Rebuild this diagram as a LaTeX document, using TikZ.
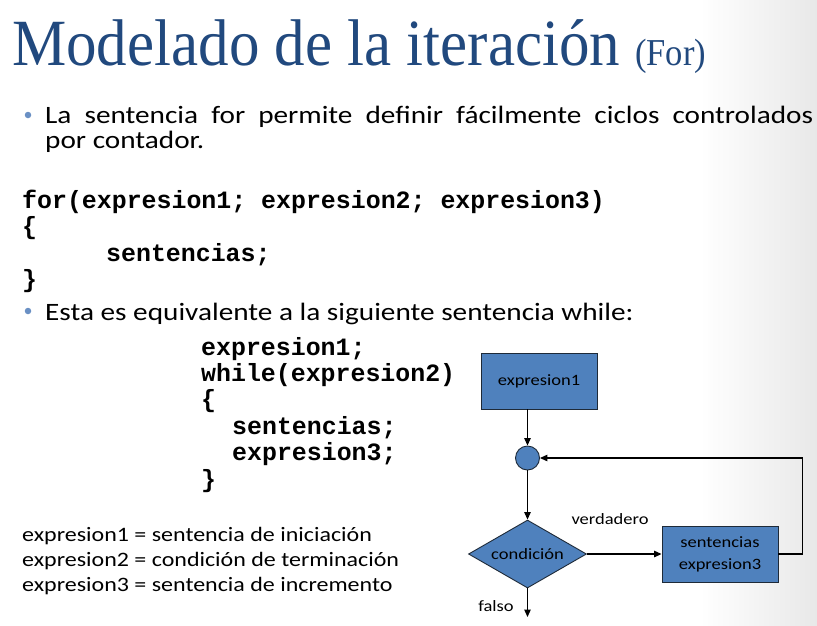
\documentclass[tikz,border=0pt]{standalone}
\usepackage{fontspec}
\setmainfont{Carlito}
\newfontfamily\titlefont{Liberation Serif}
\newfontfamily\codefont{Liberation Mono}
\usetikzlibrary{arrows.meta,shapes.geometric}
\definecolor{titleblue}{HTML}{21497E}
\definecolor{bulletblue}{HTML}{6A90C4}
\definecolor{boxblue}{HTML}{4F81BD}
\definecolor{boxedge}{HTML}{1E2A38}
% the slide sets its sans text slightly widened
\newcommand\widetext[1]{\scalebox{1.17}[1]{#1}}
\tikzset{
  txt/.style={anchor=base west, inner sep=0pt, font=\fontsize{25}{30}\selectfont},
  code/.style={anchor=base west, inner sep=0pt, font=\codefont\bfseries\fontsize{24.9}{28}\selectfont},
  defn/.style={anchor=base west, inner sep=0pt, font=\fontsize{20.5}{25}\selectfont},
  bullet/.style={circle, fill=bulletblue, inner sep=0pt, minimum size=6.5pt},
  flow/.style={draw=boxedge, line width=0.9pt, fill=boxblue, inner sep=0pt, align=center,
    font=\fontsize{15.8}{22}\selectfont},
  procbox/.style={flow, rectangle, minimum width=116pt, minimum height=56pt},
  flowlbl/.style={inner sep=0pt, font=\fontsize{15.8}{20}\selectfont},
  arr/.style={draw=black, line width=1.2pt, -{Triangle[length=7.5pt,width=6.5pt]}}
}
\begin{document}
\begin{tikzpicture}[x=1pt,y=-1pt]
\useasboundingbox (0,0) rectangle (817,625);
% slide background
\fill[white] (0,0) rectangle (817,625);
\shade[left color=white, right color=black!9] (700,0) rectangle (817,625);

% title
\node[anchor=base west, inner sep=0pt, text=titleblue,
  font=\titlefont\fontsize{66}{70}\selectfont] (title) at (12,65)
  {\resizebox{608pt}{\height}{Modelado de la iteración}};
\node[anchor=base west, inner sep=0pt, text=titleblue,
  font=\titlefont\fontsize{38}{40}\selectfont] (titlefor) at (635,65)
  {\resizebox{71pt}{\height}{(For)}};

% first bullet
\node[bullet] (b1) at (28,115) {};
\node[txt] (l1) at (45,123) {\widetext{\makebox[656.4pt][s]{La sentencia for permite definir fácilmente ciclos controlados}}};
\node[txt] (l2) at (45,148) {\widetext{por contador.}};

% for loop
\node[code] (f1) at (22,208) {for(expresion1; expresion2; expresion3)};
\node[code] (f2) at (22,234) {\{};
\node[code] (f3) at (106,261) {sentencias;};
\node[code] (f4) at (22,287) {\}};

% second bullet
\node[bullet] (b2) at (28,311) {};
\node[txt] (l3) at (45,320) {\widetext{Esta es equivalente a la siguiente sentencia while:}};

% equivalent while loop
\node[code] (w1) at (201,355) {expresion1;};
\node[code] (w2) at (201,381) {while(expresion2)};
\node[code] (w3) at (201,407) {\{};
\node[code] (w4) at (232,434) {sentencias;};
\node[code] (w5) at (232,460) {expresion3;};
\node[code] (w6) at (201,487) {\}};

% definitions
\node[defn] (d1) at (22,541) {\widetext{expresion1 = sentencia de iniciación}};
\node[defn] (d2) at (22,566) {\widetext{expresion2 = condición de terminación}};
\node[defn] (d3) at (22,591) {\widetext{expresion3 = sentencia de incremento}};

% flowchart
\node[procbox] (e1) at (539,381) {\widetext{expresion1}};
\node[flow, circle, minimum size=24pt] (join) at (527.5,458) {};
\node[flow, diamond, aspect=1.75, minimum width=118pt, minimum height=68pt] (cond) at (527.5,554) {\widetext{condición}};
\node[procbox] (body) at (720,554) {\widetext{sentencias}\\\widetext{expresion3}};
\coordinate (fend) at (527.5,617);

\draw[arr] (e1.south -| join) -- (join);
\draw[arr] (join) -- (cond.north);
\draw[arr] (cond.east) -- (body.west);
\draw[arr] (body.east) -- ++(24,0) |- (join.east);
\draw[arr] (cond.south) -- (fend);

\node[flowlbl] (vlbl) at (610,519) {\widetext{verdadero}};
\node[flowlbl] (flbl) at (496,606) {\widetext{falso}};
\end{tikzpicture}
\end{document}
